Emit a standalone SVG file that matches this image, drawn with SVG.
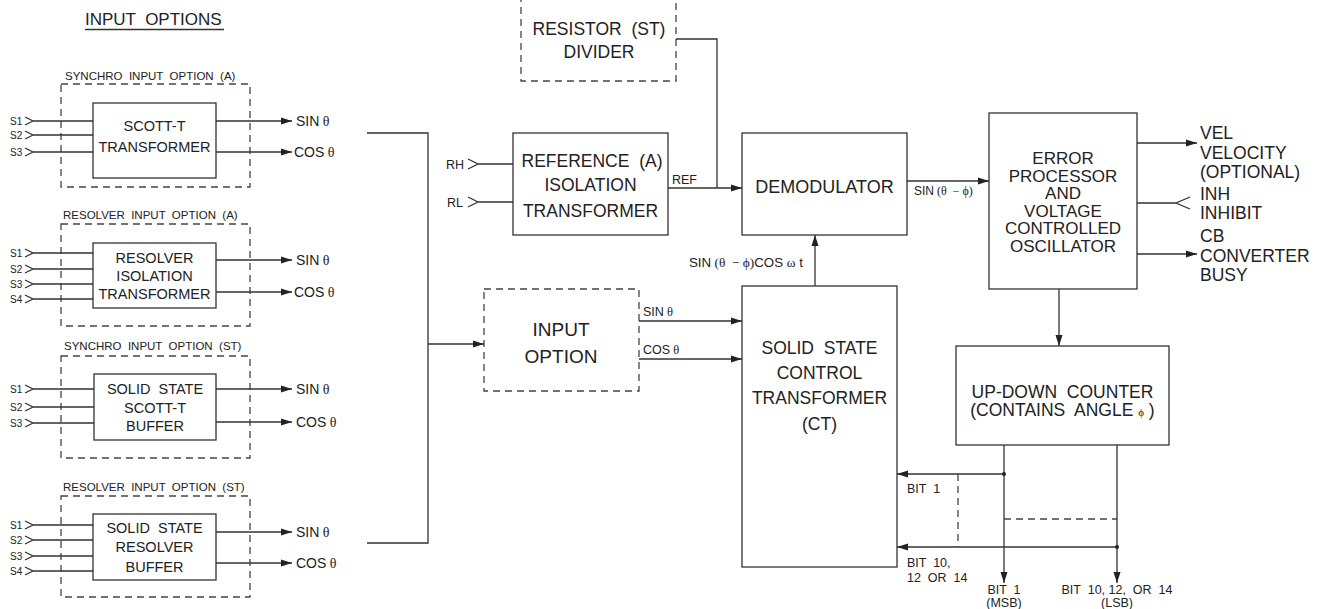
<svg xmlns="http://www.w3.org/2000/svg" width="1337" height="609" viewBox="0 0 1337 609">
<style>
.b{fill:none;stroke:#333;stroke-width:1.3}
.d{fill:none;stroke:#444;stroke-width:1.3;stroke-dasharray:7 5}
.l{fill:none;stroke:#333;stroke-width:1.3}
.la{fill:none;stroke:#333;stroke-width:1.3;marker-end:url(#ah)}
text{font-family:"Liberation Sans",Arial,sans-serif;fill:#222;white-space:pre}
.t{font-size:17.5px;text-anchor:middle}
.ts{font-size:14.5px;text-anchor:middle}
.g{font-size:11.5px}
.s{font-size:10px}
.o{font-size:14px}
.m{font-size:12.5px}
.th{font-family:"Liberation Serif",serif}
</style>
<defs>
<marker id="ah" markerWidth="12" markerHeight="8" refX="11" refY="4" orient="auto" markerUnits="userSpaceOnUse">
<path d="M0,0.5 L11,4 L0,7.5 z" fill="#222"/>
</marker>
</defs>
<rect width="1337" height="609" fill="#fff"/>

<g id="title">
<text x="85" y="25" style="font-size:17px">INPUT  OPTIONS</text>
<line x1="85" y1="29.5" x2="224" y2="29.5" class="l"/>
</g>

<g id="synchroA">
<text x="65" y="80" class="g">SYNCHRO  INPUT  OPTION  (A)</text>
<rect x="61" y="84" width="189" height="103" class="d"/>
<rect x="93" y="103" width="123" height="75" class="b"/>
<text x="154.5" y="131" class="ts">SCOTT-T</text>
<text x="154.5" y="152" class="ts">TRANSFORMER</text>
<text x="10" y="125" class="s">S1</text><text x="10" y="139" class="s">S2</text><text x="10" y="156" class="s">S3</text>
<path d="M25,117 L33,121 L25,125 M33,121 H93 M25,131 L33,135 L25,139 M33,135 H93 M25,148 L33,152 L25,156 M33,152 H93" class="l"/>
<line x1="216" y1="121" x2="292" y2="121" class="la"/>
<line x1="216" y1="152" x2="292" y2="152" class="la"/>
<text x="296" y="126" class="o">SIN<tspan class="th"> θ</tspan></text>
<text x="294" y="157" class="o">COS<tspan class="th"> θ</tspan></text>
</g>

<g id="resolverA">
<text x="63" y="219" class="g">RESOLVER  INPUT  OPTION  (A)</text>
<rect x="61" y="224" width="189" height="102" class="d"/>
<rect x="93" y="243" width="123" height="65" class="b"/>
<text x="154.5" y="263" class="ts">RESOLVER</text>
<text x="154.5" y="281" class="ts">ISOLATION</text>
<text x="154.5" y="299" class="ts">TRANSFORMER</text>
<text x="10" y="257" class="s">S1</text><text x="10" y="273" class="s">S2</text><text x="10" y="288" class="s">S3</text><text x="10" y="303" class="s">S4</text>
<path d="M25,249 L33,253 L25,257 M33,253 H93 M25,265 L33,269 L25,273 M33,269 H93 M25,280 L33,284 L25,288 M33,284 H93 M25,295 L33,299 L25,303 M33,299 H93" class="l"/>
<line x1="216" y1="260" x2="292" y2="260" class="la"/>
<line x1="216" y1="292" x2="292" y2="292" class="la"/>
<text x="296" y="265" class="o">SIN<tspan class="th"> θ</tspan></text>
<text x="294" y="297" class="o">COS<tspan class="th"> θ</tspan></text>
</g>

<g id="synchroST">
<text x="64" y="350" class="g">SYNCHRO  INPUT  OPTION  (ST)</text>
<rect x="61" y="356" width="189" height="102" class="d"/>
<rect x="94" y="374" width="122" height="66" class="b"/>
<text x="155" y="394" class="ts">SOLID  STATE</text>
<text x="155" y="413" class="ts">SCOTT-T</text>
<text x="155" y="431" class="ts">BUFFER</text>
<text x="10" y="393" class="s">S1</text><text x="10" y="411" class="s">S2</text><text x="10" y="427" class="s">S3</text>
<path d="M25,385 L33,389 L25,393 M33,389 H94 M25,403 L33,407 L25,411 M33,407 H94 M25,419 L33,423 L25,427 M33,423 H94" class="l"/>
<line x1="216" y1="389" x2="292" y2="389" class="la"/>
<line x1="216" y1="422" x2="292" y2="422" class="la"/>
<text x="296" y="394" class="o">SIN<tspan class="th"> θ</tspan></text>
<text x="296" y="427" class="o">COS<tspan class="th"> θ</tspan></text>
</g>

<g id="resolverST">
<text x="63" y="491" class="g">RESOLVER  INPUT  OPTION  (ST)</text>
<rect x="61" y="496" width="189" height="101" class="d"/>
<rect x="93" y="514" width="123" height="66" class="b"/>
<text x="154.5" y="533" class="ts">SOLID  STATE</text>
<text x="154.5" y="552" class="ts">RESOLVER</text>
<text x="154.5" y="572" class="ts">BUFFER</text>
<text x="10" y="529" class="s">S1</text><text x="10" y="544" class="s">S2</text><text x="10" y="560" class="s">S3</text><text x="10" y="575" class="s">S4</text>
<path d="M25,521 L33,525 L25,529 M33,525 H93 M25,536 L33,540 L25,544 M33,540 H93 M25,552 L33,556 L25,560 M33,556 H93 M25,567 L33,571 L25,575 M33,571 H93" class="l"/>
<line x1="216" y1="532" x2="292" y2="532" class="la"/>
<line x1="216" y1="563" x2="292" y2="563" class="la"/>
<text x="296" y="537" class="o">SIN<tspan class="th"> θ</tspan></text>
<text x="296" y="568" class="o">COS<tspan class="th"> θ</tspan></text>
</g>

<g id="inputOption">
<rect x="484" y="289" width="155" height="102" class="d"/>
<text x="561" y="336" class="t" style="font-size:19px">INPUT</text>
<text x="561" y="363" class="t" style="font-size:19px">OPTION</text>
</g>

<g id="resistor">
<rect x="521" y="-10" width="155" height="91" class="d"/>
<text x="599" y="35" class="t">RESISTOR  (ST)</text>
<text x="599" y="58" class="t">DIVIDER</text>
</g>

<g id="reference">
<rect x="513" y="133" width="155" height="102" class="b"/>
<text x="592" y="167" class="t">REFERENCE  (A)</text>
<text x="590.5" y="191" class="t">ISOLATION</text>
<text x="590.5" y="217" class="t">TRANSFORMER</text>
<text x="446" y="169" class="m">RH</text>
<text x="447" y="207" class="m">RL</text>
<path d="M468,159 L478,164 L468,169 M478,164 H513 M468,197 L478,202 L468,207 M478,202 H513" class="l"/>
</g>

<g id="demodulator">
<rect x="742" y="133" width="165" height="102" class="b"/>
<text x="824.5" y="193" class="t" style="font-size:18px">DEMODULATOR</text>
</g>

<g id="ct">
<rect x="742" y="286" width="155" height="281" class="b"/>
<text x="819.5" y="354" class="t">SOLID  STATE</text>
<text x="819.5" y="379" class="t">CONTROL</text>
<text x="819.5" y="404" class="t">TRANSFORMER</text>
<text x="819.5" y="430" class="t">(CT)</text>
</g>

<g id="errorProcessor">
<rect x="989" y="113" width="148" height="176" class="b"/>
<text x="1063" y="164" class="t" style="font-size:17px">ERROR</text>
<text x="1063" y="181.5" class="t" style="font-size:17px">PROCESSOR</text>
<text x="1063" y="199" class="t" style="font-size:17px">AND</text>
<text x="1063" y="216.5" class="t" style="font-size:17px">VOLTAGE</text>
<text x="1063" y="234" class="t" style="font-size:17px">CONTROLLED</text>
<text x="1063" y="251.5" class="t" style="font-size:17px">OSCILLATOR</text>
</g>

<g id="counter">
<rect x="956" y="346" width="213" height="99" class="b"/>
<text x="1062.5" y="398" class="t">UP-DOWN  COUNTER</text>
<text x="1062.5" y="416" class="t">(CONTAINS  ANGLE <tspan class="th" style="font-size:11px">ϕ</tspan> )</text>
</g>

<g id="outputs">
<text x="1200" y="139" class="t" style="text-anchor:start">VEL</text>
<text x="1200" y="159" class="t" style="text-anchor:start">VELOCITY</text>
<text x="1200" y="178" class="t" style="text-anchor:start">(OPTIONAL)</text>
<text x="1200" y="200" class="t" style="text-anchor:start">INH</text>
<text x="1200" y="219" class="t" style="text-anchor:start">INHIBIT</text>
<text x="1200" y="242" class="t" style="text-anchor:start">CB</text>
<text x="1200" y="262" class="t" style="text-anchor:start">CONVERTER</text>
<text x="1200" y="281" class="t" style="text-anchor:start">BUSY</text>
</g>

<g id="connectors">
<path d="M367,133 H428 V543 H367" class="l"/>
<line x1="428" y1="344" x2="484" y2="344" class="la"/>
<line x1="639" y1="321" x2="742" y2="321" class="la"/>
<line x1="639" y1="359" x2="742" y2="359" class="la"/>
<text x="643" y="316" class="m">SIN<tspan class="th"> θ</tspan></text>
<text x="643" y="354" class="m">COS<tspan class="th"> θ</tspan></text>
<path d="M676,39 H717 V188" class="l"/>
<line x1="668" y1="188" x2="742" y2="188" class="la"/>
<text x="672" y="184" class="m">REF</text>
<line x1="815" y1="286" x2="815" y2="235" class="la"/>
<text x="689" y="267" class="m" style="font-size:13.3px">SIN<tspan class="th"> (θ  − ϕ)</tspan>COS <tspan class="th">ω</tspan> t</text>
<line x1="907" y1="181" x2="989" y2="181" class="la"/>
<text x="914" y="195" class="m" style="font-size:12px">SIN<tspan class="th"> (θ  − ϕ)</tspan></text>
<line x1="1137" y1="143" x2="1197" y2="143" class="la"/>
<path d="M1137,203 H1176 M1190,197 L1176,203 L1190,209" class="l"/>
<line x1="1137" y1="254" x2="1197" y2="254" class="la"/>
<line x1="1059" y1="289" x2="1059" y2="346" class="la"/>
<line x1="1004" y1="445" x2="1004" y2="583" class="la"/>
<line x1="1117" y1="445" x2="1117" y2="583" class="la"/>
<line x1="1004" y1="474" x2="897" y2="474" class="la"/>
<line x1="1117" y1="547" x2="897" y2="547" class="la"/>
<circle cx="1004" cy="474" r="2" fill="#222"/>
<circle cx="1117" cy="547" r="2" fill="#222"/>
<line x1="958" y1="474" x2="958" y2="547" class="d"/>
<line x1="1004" y1="519" x2="1117" y2="519" class="d"/>
<text x="907" y="493" class="m">BIT  1</text>
<text x="907" y="567" class="m">BIT  10,</text>
<text x="907" y="582" class="m">12  OR  14</text>
<text x="1004" y="594" class="m" style="text-anchor:middle">BIT  1</text>
<text x="1004" y="607" class="m" style="text-anchor:middle">(MSB)</text>
<text x="1117" y="594" class="m" style="text-anchor:middle">BIT  10, 12,  OR  14</text>
<text x="1117" y="607" class="m" style="text-anchor:middle">(LSB)</text>
</g>
</svg>
